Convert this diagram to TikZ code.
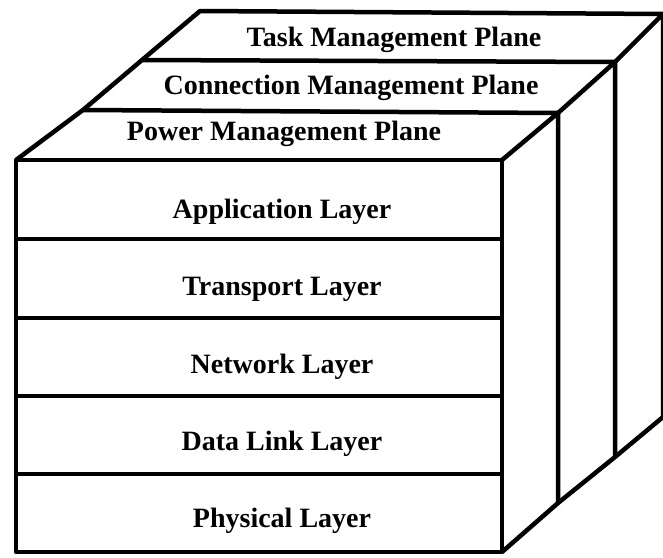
\documentclass[tikz,border=0pt]{standalone}
\usepackage{fontspec}
\setmainfont{Liberation Serif}
\usetikzlibrary{positioning}

\begin{document}
\begin{tikzpicture}[x=1pt, y=-1pt, line width=4.5pt, line join=round,
        on grid, node distance=77.3pt,
        lbl/.style={font=\bfseries\fontsize{28}{31}\selectfont, inner sep=0pt}]

            \useasboundingbox (0,0) rectangle (663,557);

            \coordinate (f0) at (16,160);
            \coordinate (f1) at (502,160);
            \coordinate (f2) at (502,552);
            \coordinate (f3) at (16,552);

            \coordinate (p0) at (83,110);
            \coordinate (p1) at (558,113);
            \coordinate (p2) at (558,503);

            \coordinate (c0) at (142,60);
            \coordinate (c1) at (615,62);
            \coordinate (c2) at (615,457);

            \coordinate (t0) at (200,11);
            \coordinate (t1) at (663,14);
            \coordinate (t2) at (663,417);

            \draw (f0) -- (f1) -- (f2) -- (f3) -- cycle;
            \foreach \y in {239,318,396,474}
                \draw (16,\y) -- (502,\y);

            \draw (f0) -- (p0) -- (p1) -- (f1) (p1) -- (p2) -- (f2);
            \draw (p0) -- (c0) -- (c1) -- (p1) (c1) -- (c2) -- (p2);
            \draw (c0) -- (t0) -- (t1) -- (c1) (t1) -- (t2) -- (c2);

            \node[lbl] (task)  at (394,40)  {Task Management Plane};
            \node[lbl] (conn)  at (351,88)  {Connection Management Plane};
            \node[lbl] (power) at (284,134) {Power Management Plane};

            \node[lbl] (app) at (282,212) {Application Layer};
            \node[lbl] (trans) [below=of app]   {Transport Layer};
            \node[lbl] (net)   [below=of trans] {Network Layer};
            \node[lbl] (dlink) [below=of net]   {Data Link Layer};
            \node[lbl] (phys)  [below=of dlink] {Physical Layer};

        \end{tikzpicture}
\end{document}
